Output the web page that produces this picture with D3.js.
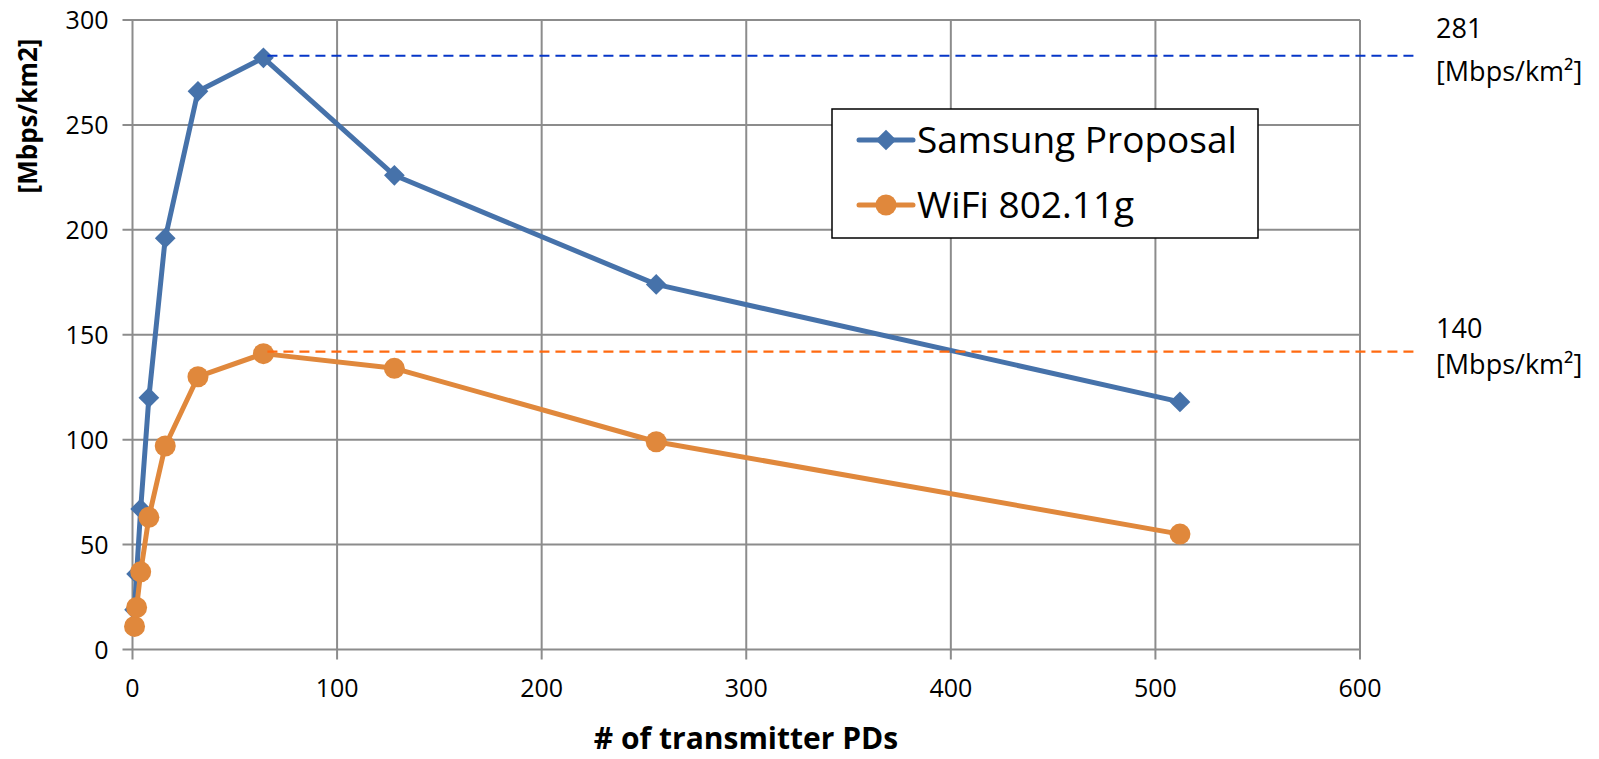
<!DOCTYPE html>
<html>
<head>
<meta charset="utf-8">
<script src="https://cdn.jsdelivr.net/npm/d3@7"></script>
<style>
  body { margin: 0; background: #fff; }
  svg { display: block; }
  text { font-family: "Open Sans", "Noto Sans", sans-serif; fill: #000; }
</style>
</head>
<body>
<svg id="chart" width="1599" height="759"></svg>
<script>
// Data -----------------------------------------
var pds = [1, 2, 4, 8, 16, 32, 64, 128, 256, 512];
var samsung = [19, 36, 67, 120, 196, 266, 282, 226, 174, 118];
var wifi = [11, 20, 37, 63, 97, 130, 141, 134, 99, 55];
var seriesNames = ["Samsung Proposal", "WiFi 802.11g"];
var xTicks = [0, 100, 200, 300, 400, 500, 600];
var yTicks = [0, 50, 100, 150, 200, 250, 300];
var peakLabels = ["281", "140"];
var peakUnit = "[Mbps/km\u00b2]";
var peakLineEnd = 628;   // dashed guide runs past the plot to this x value

var svg = d3.select("#chart");
var width = 1599, height = 759;
var m = { left: 132.5, right: 239, top: 20, bottom: 109.5 };

var blue = "#4672aa", orange = "#e0883c";

// Scales ---------------------------------------
var x = d3.scaleLinear().domain([0, 600]).range([m.left, width - m.right]);
var y = d3.scaleLinear().domain([0, 300]).range([height - m.bottom, m.top]);

// Grid -----------------------------------------
var grid = svg.append("g");
grid.selectAll(".gx").data(xTicks).enter().append("line")
    .attr("x1", function(d) { return x(d) }).attr("x2", function(d) { return x(d) })
    .attr("y1", y(300)).attr("y2", y(0) + 10)
    .attr("stroke", "#8c8c8c").attr("stroke-width", 2);
grid.selectAll(".gy").data(yTicks).enter().append("line")
    .attr("x1", x(0) - 10).attr("x2", x(600))
    .attr("y1", function(d) { return y(d) }).attr("y2", function(d) { return y(d) })
    .attr("stroke", "#8c8c8c").attr("stroke-width", 2);

// Tick labels ----------------------------------
svg.selectAll(".xl").data(xTicks).enter().append("text")
    .attr("x", function(d) { return x(d) })
    .attr("y", y(0) + 47)
    .attr("text-anchor", "middle")
    .style("font-size", "25px")
    .text(function(d) { return d });
svg.selectAll(".yl").data(yTicks).enter().append("text")
    .attr("x", x(0) - 24)
    .attr("y", function(d) { return y(d) + 9 })
    .attr("text-anchor", "end")
    .style("font-size", "25px")
    .text(function(d) { return d });

// Axis titles ----------------------------------
svg.append("text")
    .attr("x", 746).attr("y", 749)
    .attr("text-anchor", "middle")
    .style("font-size", "30px").style("font-weight", "bold")
    .text("# of transmitter PDs");
svg.append("text")
    .attr("transform", "translate(37,116) rotate(-90)")
    .attr("text-anchor", "middle")
    .style("font-size", "26px").style("font-weight", "bold")
    .text("[Mbps/km2]");

// Series ---------------------------------------
var series = [
  { name: seriesNames[0], values: samsung, color: blue, marker: "diamond", guide: "#0636c8", lab: [-18, 25] },
  { name: seriesNames[1], values: wifi, color: orange, marker: "circle", guide: "#ff6a10", lab: [-14, 22] }
];

var line = d3.line()
    .x(function(d) { return x(d[0]) })
    .y(function(d) { return y(d[1]) });

var diamond = d3.symbol().type(d3.symbolSquare).size(215);

function drawMarker(g, s, cx, cy) {
  if (s.marker === "diamond") {
    g.append("path")
      .attr("d", diamond())
      .attr("transform", "translate(" + cx + "," + cy + ") rotate(45)")
      .attr("fill", s.color);
  } else {
    g.append("circle").attr("cx", cx).attr("cy", cy).attr("r", 10.5)
      .attr("fill", s.color);
  }
}

series.forEach(function(s) {
  var pts = pds.map(function(p, i) { return [p, s.values[i]] });
  svg.append("path")
    .attr("d", line(pts))
    .attr("fill", "none")
    .attr("stroke", s.color)
    .attr("stroke-width", 5)
    .attr("stroke-linejoin", "round");
  var g = svg.append("g");
  pts.forEach(function(d) { drawMarker(g, s, x(d[0]), y(d[1])) });
});

// Peak guides ----------------------------------
series.forEach(function(s, i) {
  var peak = d3.max(s.values);
  var peakX = pds[s.values.indexOf(peak)];
  var py = y(peak) - 2;
  svg.append("line")
    .attr("x1", x(peakX) + 4).attr("x2", x(peakLineEnd))
    .attr("y1", py).attr("y2", py)
    .attr("stroke", s.guide).attr("stroke-width", 2.2)
    .attr("stroke-dasharray", "10,6");
  var t = svg.append("g")
    .style("font-family", "'DejaVu Sans Condensed', 'DejaVu Sans', sans-serif")
    .style("font-size", "27px");
  t.append("text").attr("x", 1436).attr("y", py + s.lab[0]).text(peakLabels[i]);
  t.append("text").attr("x", 1436).attr("y", py + s.lab[1]).text(peakUnit);
});

// Legend ---------------------------------------
var legend = svg.append("g");
legend.append("rect")
    .attr("x", 832).attr("y", 109).attr("width", 426).attr("height", 129)
    .attr("fill", "#fff").attr("stroke", "#000").attr("stroke-width", 1.5);
series.forEach(function(s, i) {
  var ly = 140 + i * 65;
  legend.append("line")
    .attr("x1", 859).attr("x2", 913).attr("y1", ly).attr("y2", ly)
    .attr("stroke", s.color).attr("stroke-width", 5).attr("stroke-linecap", "round");
  drawMarker(legend, s, 886, ly);
  legend.append("text")
    .attr("x", 917).attr("y", ly + 13)
    .style("font-size", "37px")
    .text(s.name);
});
</script>
</body>
</html>
